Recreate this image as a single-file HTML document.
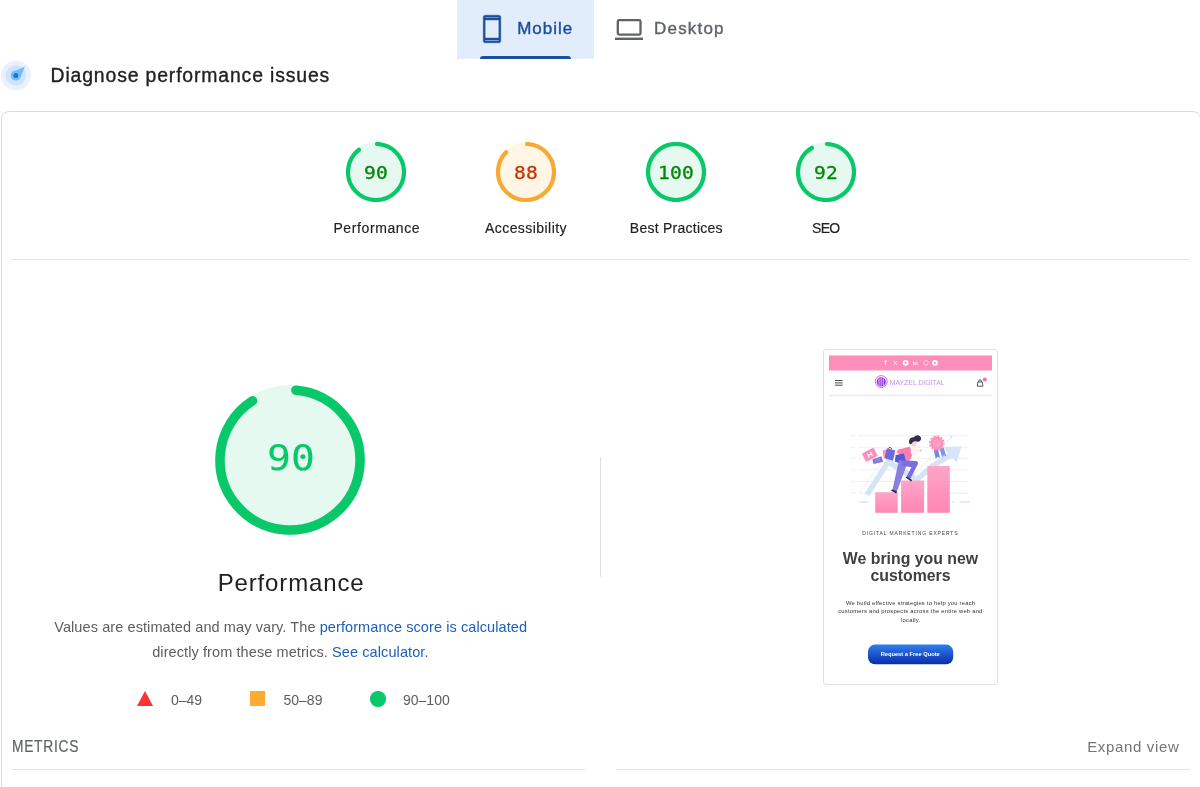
<!DOCTYPE html>
<html lang="en">
<head>
<meta charset="utf-8">
<title>PageSpeed Insights</title>
<style>
html,body{margin:0;padding:0;background:#fff;}
body{width:1200px;height:787px;overflow:hidden;position:relative;font-family:"Liberation Sans",sans-serif;color:#212121;}
.abs{position:absolute;white-space:nowrap;line-height:1;}
/* tabs */
#tab-mobile{position:absolute;left:457px;top:0;width:137px;height:59px;background:#e2edfb;}
#tab-mobile .ul{position:absolute;left:23px;top:56px;width:91px;height:3px;background:#1c4f9e;border-radius:3px 3px 0 0;}
.tabtxt{font-size:17px;letter-spacing:1px;-webkit-text-stroke:.4px currentColor;}
/* card */
#card{position:absolute;left:1px;top:111px;width:1200px;height:760px;box-sizing:border-box;border:1px solid #dcdcdc;border-radius:8px;background:#fff;}
.hr{position:absolute;height:1px;background:#e3e3e3;}
.glabel{font-size:14px;color:#212121;text-align:center;-webkit-text-stroke:.15px #212121;}
.gnum{text-align:center;font-size:17.3px;letter-spacing:.2px;text-indent:.2px;transform:scaleX(1.13);-webkit-text-stroke:.3px currentColor;transform-origin:50% 50%;}
.mono{font-family:"DejaVu Sans Mono","Liberation Mono",monospace;}
.gray{color:#5e5e5e;}
a{color:#1c5fbb;text-decoration:none;}
</style>
</head>
<body>

<!-- TABS -->
<div id="tab-mobile"><div class="ul"></div></div>
<svg class="abs" style="left:476.75px;top:13.75px" width="30" height="30" viewBox="0 96 960 960"><path fill="#1c4f9e" stroke="#1c4f9e" stroke-width="16" fill-rule="evenodd" d="M260 1016q-24 0-42-18t-18-42V196q0-24 18-42t42-18h440q24 0 42 18t18 42v760q0 24-18 42t-42 18H260Zm0-90v30h440v-30H260Zm0-60h440V286H260v580Zm0-640h440v-30H260v30Z"/></svg>
<div class="abs tabtxt" id="t-mobile" style="left:517.2px;top:19.5px;color:#1c4f9e;">Mobile</div>
<svg class="abs" style="left:610px;top:10px" width="40" height="40" viewBox="610 10 40 40"><rect x="617.8" y="20.1" width="22.7" height="14.5" rx="1.3" fill="none" stroke="#5f6368" stroke-width="2.3"/><rect x="615" y="37.6" width="28" height="2.4" fill="#5f6368"/></svg>
<div class="abs tabtxt" id="t-desktop" style="left:654px;top:19.5px;letter-spacing:1.2px;color:#5f6368;">Desktop</div>

<!-- TITLE -->
<svg class="abs" style="left:0;top:56px;filter:blur(.4px)" width="40" height="40" viewBox="0 0 40 40">
  <circle cx="15.9" cy="19.4" r="15" fill="#e6eefc" opacity=".85"/>
  <circle cx="15.9" cy="19.4" r="10.2" fill="#cfe4fc"/>
  <circle cx="15.8" cy="19.6" r="5" fill="#74bdf8"/>
  <path d="M24.9 10.6 L20.5 21.6 L12.6 16 Z" fill="#74bdf8"/>
  <circle cx="15.8" cy="19.5" r="2.5" fill="#1a73e8"/>
</svg>
<div class="abs" id="t-title" style="left:50.6px;top:66px;font-size:19.4px;letter-spacing:.85px;color:#202124;-webkit-text-stroke:.35px #202124;">Diagnose performance issues</div>

<!-- CARD -->
<div id="card"></div>

<!-- SMALL GAUGES -->
<svg class="abs" style="left:346px;top:142px" width="60" height="60" viewBox="0 0 120 120">
  <circle cx="60" cy="60" r="60" fill="#08c869" opacity=".1"/>
  <circle cx="60" cy="60" r="56" fill="none" stroke="#08c869" stroke-width="8.4" stroke-linecap="round" stroke-dasharray="312.67 351.86" transform="rotate(-87.954 60 60)"/>
</svg>
<svg class="abs" style="left:496px;top:142px" width="60" height="60" viewBox="0 0 120 120">
  <circle cx="60" cy="60" r="60" fill="#ffa400" opacity=".1"/>
  <circle cx="60" cy="60" r="56" fill="none" stroke="#f8a934" stroke-width="8.4" stroke-linecap="round" stroke-dasharray="305.64 351.86" transform="rotate(-87.954 60 60)"/>
</svg>
<svg class="abs" style="left:646px;top:142px" width="60" height="60" viewBox="0 0 120 120">
  <circle cx="60" cy="60" r="60" fill="#08c869" opacity=".1"/>
  <circle cx="60" cy="60" r="56" fill="none" stroke="#08c869" stroke-width="8.4"/>
</svg>
<svg class="abs" style="left:796px;top:142px" width="60" height="60" viewBox="0 0 120 120">
  <circle cx="60" cy="60" r="60" fill="#08c869" opacity=".1"/>
  <circle cx="60" cy="60" r="56" fill="none" stroke="#08c869" stroke-width="8.4" stroke-linecap="round" stroke-dasharray="319.71 351.86" transform="rotate(-87.954 60 60)"/>
</svg>
<div class="abs mono gnum" style="left:346.4px;top:165.1px;width:60px;color:#080;">90</div>
<div class="abs mono gnum" style="left:496.4px;top:165.1px;width:60px;color:#c33300;">88</div>
<div class="abs mono gnum" style="left:646.4px;top:165.1px;width:60px;color:#080;">100</div>
<div class="abs mono gnum" style="left:796.4px;top:165.1px;width:60px;color:#080;">92</div>

<div class="abs glabel" style="left:316.5px;top:221px;width:120px;letter-spacing:.6px;text-indent:.6px;">Performance</div>
<div class="abs glabel" style="left:465.75px;top:221px;width:120px;letter-spacing:.44px;text-indent:.44px;">Accessibility</div>
<div class="abs glabel" style="left:616.2px;top:221px;width:120px;letter-spacing:.25px;text-indent:.25px;">Best Practices</div>
<div class="abs glabel" style="left:766.1px;top:221px;width:120px;letter-spacing:-.8px;text-indent:-.8px;">SEO</div>

<div class="hr" style="left:12px;top:259px;width:1178px;"></div>

<!-- BIG GAUGE -->
<svg class="abs" style="left:215.4px;top:385.3px" width="150" height="150" viewBox="0 0 120 120">
  <circle cx="60" cy="60" r="60" fill="#08c869" opacity=".1"/>
  <circle cx="60" cy="60" r="56" fill="none" stroke="#08c869" stroke-width="7.6" stroke-linecap="round" stroke-dasharray="315.1 351.86" transform="rotate(-85.2 60 60)"/>
</svg>
<div class="abs mono" id="bignum" style="left:215.9px;top:439.5px;width:150px;text-align:center;font-size:36px;transform:scaleX(1.1);letter-spacing:.2px;text-indent:.2px;color:#08c869;-webkit-text-stroke:.12px #08c869;">90</div>
<div class="abs" id="bigperf" style="left:140.7px;top:571.3px;width:300px;text-align:center;font-size:24px;letter-spacing:.87px;text-indent:.87px;color:#212121;">Performance</div>

<div class="abs gray" id="d1" style="left:0;top:620px;width:581.4px;text-align:center;font-size:14.5px;letter-spacing:.09px;">Values are estimated and may vary. The <a>performance score is calculated</a></div>
<div class="abs gray" id="d2" style="left:0;top:645px;width:580.8px;text-align:center;font-size:14.5px;letter-spacing:.09px;">directly from these metrics. <a>See calculator.</a></div>

<!-- legend -->
<svg class="abs" style="left:137px;top:691px" width="16" height="15" viewBox="0 0 16 15"><path d="M8 0 L16 15 L0 15 Z" fill="#f33"/></svg>
<div class="abs gray" id="l1" style="left:171px;top:693px;font-size:14px;">0–49</div>
<div class="abs" style="left:250px;top:691px;width:15px;height:15px;background:#fa3;"></div>
<div class="abs gray" id="l2" style="left:283.5px;top:693px;font-size:14px;">50–89</div>
<div class="abs" style="left:370px;top:691px;width:15.5px;height:15.5px;background:#08c869;border-radius:50%;"></div>
<div class="abs gray" id="l3" style="left:403px;top:693px;font-size:14px;">90–100</div>

<div class="hr" style="left:600px;top:457px;width:1px;height:120px;background:#e0e0e0;"></div>

<!-- METRICS header -->
<div class="abs" id="metrics" style="-webkit-text-stroke:.2px #5f6368;left:12.2px;top:739.4px;font-size:15.7px;letter-spacing:.8px;transform:scaleX(.88);transform-origin:0 50%;color:#5f6368;">METRICS</div>
<div class="abs" id="expand" style="left:1087.2px;top:739px;font-size:15px;letter-spacing:.66px;color:#757575;">Expand view</div>
<div class="hr" style="left:12px;top:769px;width:573px;"></div>
<div class="hr" style="left:616px;top:769px;width:574px;"></div>

<!-- PHONE SCREENSHOT -->
<div class="abs" id="phone" style="left:823px;top:349px;width:175px;height:336px;box-sizing:border-box;border:1px solid #e0e0e0;border-radius:3px;background:#fff;"></div>
<svg class="abs" id="phonesvg" style="left:823px;top:349px;filter:blur(.35px)" width="175" height="336" viewBox="823 349 175 336" font-family="'Liberation Sans',sans-serif">
  <defs>
    <linearGradient id="gbar" x1="0" y1="0" x2="0" y2="1"><stop offset="0" stop-color="#ffa6c8"/><stop offset="1" stop-color="#ff85b3"/></linearGradient>
    <linearGradient id="gbtn" x1="0" y1="0" x2="0" y2="1"><stop offset="0" stop-color="#2f7fee"/><stop offset="1" stop-color="#0b2cab"/></linearGradient>
    <linearGradient id="glogo" x1="0" y1="0" x2="1" y2="0"><stop offset="0" stop-color="#9a63dc"/><stop offset="1" stop-color="#c46ac8"/></linearGradient>
    <linearGradient id="gemb" x1="0" y1="0" x2="1" y2="1"><stop offset="0" stop-color="#c93fe0"/><stop offset="1" stop-color="#6a2fd6"/></linearGradient>
  </defs>
  <!-- top pink bar -->
  <rect x="829" y="355.4" width="163" height="15.1" fill="#ff8fba"/>
  <g fill="#fff">
    <text x="884.4" y="365.3" font-size="6.4" font-weight="700">f</text>
    <text x="893.2" y="365.2" font-size="6.2" font-weight="400">X</text>
    <circle cx="905.6" cy="362.8" r="2.9"/>
    <text x="912.8" y="365.1" font-size="5.6" font-weight="700">in</text>
    <circle cx="926" cy="362.8" r="2.3" fill="none" stroke="#fff" stroke-width=".7" opacity=".75"/>
    <circle cx="935" cy="362.8" r="2.9"/>
  </g>
  <circle cx="905.6" cy="362.8" r="1.1" fill="#ff8fba"/>
  <circle cx="935" cy="362.8" r="1.1" fill="#ff8fba"/>
  <!-- header -->
  <g stroke="#4a4a4a" stroke-width="1">
    <line x1="835" y1="380.5" x2="842.6" y2="380.5"/>
    <line x1="835" y1="382.9" x2="842.6" y2="382.9"/>
    <line x1="835" y1="385.2" x2="842.6" y2="385.2"/>
  </g>
  <circle cx="881.2" cy="381.5" r="5.9" fill="none" stroke="url(#gemb)" stroke-width=".9" opacity=".8"/>
  <circle cx="881.2" cy="381.8" r="4.6" fill="url(#gemb)"/>
  <g stroke="#fff" stroke-width=".7" opacity=".9">
    <line x1="879.1" y1="378.6" x2="879.1" y2="385.6"/>
    <line x1="881.2" y1="377.8" x2="881.2" y2="386.2"/>
    <line x1="883.3" y1="378.6" x2="883.3" y2="385.6"/>
  </g>
  <text x="889.7" y="384.6" font-size="7" fill="url(#glogo)" textLength="55" lengthAdjust="spacingAndGlyphs" opacity=".72">MAYZEL DIGITAL</text>
  <path d="M977.8 382 h4.6 l.5 4.2 h-5.6 z M978.8 382 v-.9 a1.3 1.3 0 0 1 2.6 0 v.9" fill="none" stroke="#444" stroke-width=".9" stroke-linejoin="round"/>
  <circle cx="984.8" cy="379.6" r="2.1" fill="#ff6fa5"/>
  <rect x="829" y="394.6" width="163" height="1.8" fill="#ededed"/>
  <g id="illus">
    <!-- grid -->
    <g stroke="#e6ebf4" stroke-width=".75">
      <line x1="858.3" y1="435.7" x2="968" y2="435.7"/>
      <line x1="858.3" y1="447.3" x2="968" y2="447.3"/>
      <line x1="858.3" y1="458.3" x2="968" y2="458.3"/>
      <line x1="858.3" y1="469.9" x2="968" y2="469.9"/>
      <line x1="858.3" y1="481.5" x2="968" y2="481.5"/>
      <line x1="858.3" y1="493.2" x2="968" y2="493.2"/>
    </g>
    <g stroke="#eaeff7" stroke-width="1.2">
      <line x1="851" y1="435.7" x2="855.5" y2="435.7"/><line x1="851" y1="447.3" x2="855.5" y2="447.3"/>
      <line x1="851" y1="458.3" x2="855.5" y2="458.3"/><line x1="851" y1="469.9" x2="855.5" y2="469.9"/>
      <line x1="851" y1="481.5" x2="855.5" y2="481.5"/><line x1="851" y1="493.2" x2="855.5" y2="493.2"/>
    </g>
    <g stroke="#d3e0f3" stroke-width="1.3">
      <line x1="858.8" y1="502" x2="868.6" y2="502"/>
      <line x1="952.4" y1="502" x2="954" y2="502"/>
      <line x1="959.6" y1="502" x2="970" y2="502"/>
    </g>
    <!-- thin line arrow -->
    <path d="M859.5 492.5 L886 457 L914 474 L951.5 437" fill="none" stroke="#eef3fa" stroke-width="1.1"/>
    <path d="M949 435.6 l3.6 .4 l-.6 3.4 z" fill="#dfe8f5"/>
    <!-- thick arrow -->
    <path d="M867 494.8 L888 462 L917 479.6 L932 466.4 L950.8 455" fill="none" stroke="#d6e4f6" stroke-width="5.4" stroke-linejoin="miter"/>
    <path d="M944.2 447 L961.4 446.4 L956.6 462.4 L953 458.6 L948.6 458.8 L948 455.6 Z" fill="#d6e4f6"/>
    <!-- bars -->
    <rect x="875.2" y="492.2" width="22.5" height="20.6" fill="url(#gbar)"/>
    <rect x="901.1" y="480.5" width="23" height="32.3" fill="url(#gbar)"/>
    <rect x="927.3" y="466" width="22.5" height="46.8" fill="url(#gbar)"/>
    <!-- medal -->
    <path d="M933.6 449.6 l4.2 -1 l2.2 9.4 l-2.6 -1.3 l-1.6 2.4 z" fill="#6f86e0"/>
    <path d="M939.6 448.8 l4 -1.4 l2.8 8.8 l-2.8 -.9 l-1.4 2.4 z" fill="#7f95e6"/>
    <circle cx="936.8" cy="443.2" r="6.6" fill="#ff8fba"/>
    <circle cx="936.8" cy="443.2" r="7.2" fill="none" stroke="#ff8fba" stroke-width="1.2" stroke-dasharray="2.2 1.57"/>
    <circle cx="936.8" cy="443.2" r="4.3" fill="#ff9cc2"/>
    <!-- bags -->
    <g transform="rotate(-27 869.8 454.6)">
      <rect x="863.2" y="450" width="13.2" height="9.4" rx=".8" fill="#ff8fba"/>
      <path d="M868 452.6 v4.2 M871.6 452.6 v4.2 M868 454.7 h3.6" stroke="#fff" stroke-width="1.1" fill="none"/>
    </g>
    <path d="M872.4 459.6 l9 -3.4 l1.6 5.6 l-9.4 2.2 z" fill="#7d74de"/>
    <path d="M875.4 461.8 v-1.4 M877.2 461.4 v-2.4 M879 461 v-3" stroke="#b9b3f0" stroke-width=".7"/>
    <path d="M882.6 450.4 l4.8 -.8 l1 7.6 l-4.6 .8 z" fill="#ff8fba"/>
    <path d="M886.8 448.2 l8.6 2.2 l-2.4 10.4 l-8.4 -2.6 z" fill="#7269dd"/>
    <path d="M888.4 448.4 q1.6 -2.6 3.6 .8" fill="none" stroke="#2f2b55" stroke-width=".9"/>
    <!-- person -->
    <path d="M898.4 449.4 L909.6 446.8 L913 452.4 L910.4 459.6 L906 462.4 L898.6 459.4 Z" fill="#f97fb0"/>
    <path d="M896 452.6 l2.6 -3.2 l5 1.2 l-2 3.4 z" fill="#f97fb0"/>
    <path d="M911 447.6 L915.2 448.6 L920.8 450 L921.2 451.6 L917.6 452.4 L918.6 455 L913.6 456 L910.8 453.4 Z" fill="#fdf3ee"/>
    <path d="M919.6 449.8 l1.8 -.8 l.5 2.2 l-1.8 .6 z" fill="#f7c9b8"/>
    <!-- front bag -->
    <path d="M895.6 455 l8.4 -1.4 l2 8.2 l-4.4 2.4 l-6.8 -2.6 z" fill="#5a58cf"/>
    <!-- legs -->
    <path d="M899 460 L907.6 462.4 L897 491.2 L892.6 489.2 Z" fill="#8a7fe0"/>
    <path d="M902.8 460.2 L916.6 461 Q918.8 462.4 917.4 465 L910.6 478.6 L906.4 477 L911.4 467.2 L901.4 465.6 Z" fill="#7b70db"/>
    <path d="M890.8 490.6 l2 -1.4 l4.2 2 l-.6 2.4 z" fill="#2f2b55"/>
    <path d="M905.6 477.6 l1.6 -1.2 l5 3.6 l-1 1.6 z" fill="#2f2b55"/>
    <!-- head -->
    <circle cx="913.9" cy="443.9" r="2.6" fill="#fbd3c4"/>
    <path d="M909 441.2 Q909.6 437 914 437.2 Q915.4 435 918.6 435.4 Q922 436.8 920.8 440 Q919.6 442.4 916.4 441.6 Q914.4 440.6 912.4 442.6 Q911.6 444.4 910.4 444.2 Q908.6 443.4 909 441.2 Z" fill="#2f2b55"/>
</g>

  <!-- text -->
  <text x="910.4" y="534.6" font-size="5" fill="#444" text-anchor="middle" letter-spacing=".86">DIGITAL MARKETING EXPERTS</text>
  <text x="910.5" y="563.7" font-size="15.85" font-weight="700" fill="#3f3f3f" text-anchor="middle">We bring you new</text>
  <text x="910.5" y="581" font-size="15.85" font-weight="700" fill="#3f3f3f" text-anchor="middle">customers</text>
  <g font-size="5.85" fill="#333" text-anchor="middle" letter-spacing=".215">
    <text x="910.6" y="604.5">We build effective strategies to help you reach</text>
    <text x="910.4" y="613.2">customers and prospects across the entire web and</text>
    <text x="910.7" y="621.9">locally.</text>
  </g>
  <rect x="868" y="644.6" width="85.2" height="19.6" rx="7" fill="url(#gbtn)"/>
  <text x="910.2" y="655.8" font-size="5.72" font-weight="700" fill="#fff" text-anchor="middle">Request a Free Quote</text>
</svg>


</body>
</html>
